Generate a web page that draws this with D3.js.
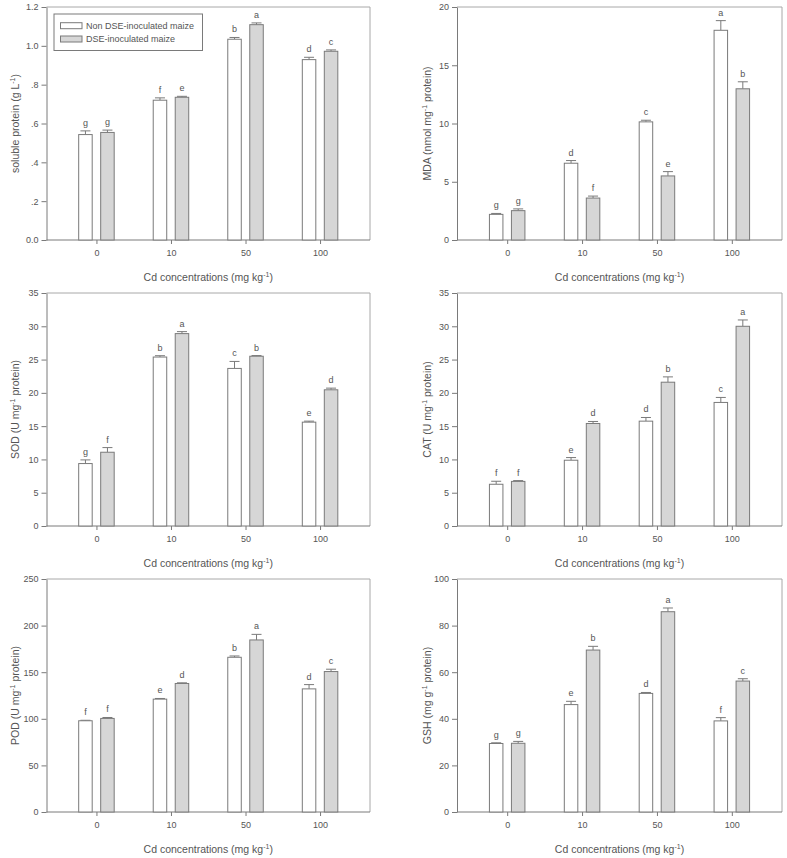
<!DOCTYPE html>
<html>
<head>
<meta charset="utf-8">
<script src="https://cdn.jsdelivr.net/npm/d3@7"></script>
<style>
  html, body { margin: 0; padding: 0; background: #fff; }
  svg { display: block; }
  text { font-family: Arial, "Liberation Sans", sans-serif; fill: #555; }
</style>
</head>
<body>
<svg id="chart" width="787" height="858"></svg>
<script>
// ---------- data ----------
const categories = ["0", "10", "50", "100"];
const seriesNames = ["Non DSE-inoculated maize", "DSE-inoculated maize"];
const xTitle = "Cd concentrations (mg kg";

// soluble protein
const solubleNon = [0.543, 0.720, 1.034, 0.929];
const solubleNonErr = [0.019, 0.012, 0.009, 0.012];
const solubleDSE = [0.554, 0.735, 1.109, 0.972];
const solubleDSEErr = [0.012, 0.005, 0.009, 0.007];
const solubleNonLetters = ["g", "f", "b", "d"];
const solubleDSELetters = ["g", "e", "a", "c"];
const solubleTicks = [0, 0.2, 0.4, 0.6, 0.8, 1.0, 1.2];
const solubleTickLabels = ["0.0", ".2", ".4", ".6", ".8", "1.0", "1.2"];

// MDA
const mdaNon = [2.2, 6.59, 10.14, 18.0];
const mdaNonErr = [0.08, 0.23, 0.14, 0.83];
const mdaDSE = [2.52, 3.6, 5.5, 12.98];
const mdaDSEErr = [0.15, 0.17, 0.37, 0.6];
const mdaNonLetters = ["g", "d", "c", "a"];
const mdaDSELetters = ["g", "f", "e", "b"];
const mdaTicks = [0, 5, 10, 15, 20];
const mdaTickLabels = ["0", "5", "10", "15", "20"];

// SOD
const sodNon = [9.38, 25.38, 23.67, 15.6];
const sodNonErr = [0.55, 0.2, 1.05, 0.15];
const sodDSE = [11.08, 28.9, 25.5, 20.46];
const sodDSEErr = [0.7, 0.3, 0.1, 0.25];
const sodNonLetters = ["g", "b", "c", "e"];
const sodDSELetters = ["f", "a", "b", "d"];
const sodTicks = [0, 5, 10, 15, 20, 25, 30, 35];
const sodTickLabels = ["0", "5", "10", "15", "20", "25", "30", "35"];

// CAT
const catNon = [6.27, 9.88, 15.75, 18.56];
const catNonErr = [0.45, 0.4, 0.55, 0.75];
const catDSE = [6.7, 15.4, 21.6, 30.0];
const catDSEErr = [0.12, 0.3, 0.8, 0.95];
const catNonLetters = ["f", "e", "d", "c"];
const catDSELetters = ["f", "d", "b", "a"];
const catTicks = [0, 5, 10, 15, 20, 25, 30, 35];
const catTickLabels = ["0", "5", "10", "15", "20", "25", "30", "35"];

// POD
const podNon = [97.9, 121.1, 166.0, 132.1];
const podNonErr = [0.5, 0.7, 1.4, 4.6];
const podDSE = [100.4, 137.9, 184.6, 150.7];
const podDSEErr = [1.0, 0.7, 6.0, 2.5];
const podNonLetters = ["f", "e", "b", "d"];
const podDSELetters = ["f", "d", "a", "c"];
const podTicks = [0, 50, 100, 150, 200, 250];
const podTickLabels = ["0", "50", "100", "150", "200", "250"];

// GSH
const gshNon = [29.4, 46.1, 50.9, 39.1];
const gshNonErr = [0.3, 1.4, 0.4, 1.4];
const gshDSE = [29.5, 69.5, 85.96, 56.2];
const gshDSEErr = [0.8, 1.6, 1.6, 1.0];
const gshNonLetters = ["g", "e", "d", "f"];
const gshDSELetters = ["g", "b", "a", "c"];
const gshTicks = [0, 20, 40, 60, 80, 100];
const gshTickLabels = ["0", "20", "40", "60", "80", "100"];

// ---------- layout ----------
const panels = [
  { label: ["soluble protein (g L", ")"], max: 1.2, ticks: solubleTicks, tickLabels: solubleTickLabels,
    non: solubleNon, nonErr: solubleNonErr, dse: solubleDSE, dseErr: solubleDSEErr,
    nonL: solubleNonLetters, dseL: solubleDSELetters, col: 0, row: 0, legend: true },
  { label: ["MDA (nmol mg", " protein)"], max: 20, ticks: mdaTicks, tickLabels: mdaTickLabels,
    non: mdaNon, nonErr: mdaNonErr, dse: mdaDSE, dseErr: mdaDSEErr,
    nonL: mdaNonLetters, dseL: mdaDSELetters, col: 1, row: 0 },
  { label: ["SOD (U mg", " protein)"], max: 35, ticks: sodTicks, tickLabels: sodTickLabels,
    non: sodNon, nonErr: sodNonErr, dse: sodDSE, dseErr: sodDSEErr,
    nonL: sodNonLetters, dseL: sodDSELetters, col: 0, row: 1 },
  { label: ["CAT (U mg", " protein)"], max: 35, ticks: catTicks, tickLabels: catTickLabels,
    non: catNon, nonErr: catNonErr, dse: catDSE, dseErr: catDSEErr,
    nonL: catNonLetters, dseL: catDSELetters, col: 1, row: 1 },
  { label: ["POD (U mg", " protein)"], max: 250, ticks: podTicks, tickLabels: podTickLabels,
    non: podNon, nonErr: podNonErr, dse: podDSE, dseErr: podDSEErr,
    nonL: podNonLetters, dseL: podDSELetters, col: 0, row: 2 },
  { label: ["GSH (mg g", " protein)"], max: 100, ticks: gshTicks, tickLabels: gshTickLabels,
    non: gshNon, nonErr: gshNonErr, dse: gshDSE, dseErr: gshDSEErr,
    nonL: gshNonLetters, dseL: gshDSELetters, col: 1, row: 2 }
];

const colX = [{ x0: 46.5, x1: 370, labelX: 15 }, { x0: 457, x1: 782, labelX: 427 }];
const rowY = [7, 293, 579];
const plotH = 233;
const barW = 13.5;
const barOff = 11;
const capW = 10;

const AXIS = "#7a7a7a";
const FRAME = "#a8a8a8";
const BAR_STROKE = "#7a7a7a";
const GRAY_FILL = "#d6d6d6";

const svg = d3.select("#chart");

panels.forEach(p => {
  const c = colX[p.col];
  const top = rowY[p.row];
  const bottom = top + plotH;
  const g = svg.append("g");

  const x = d3.scalePoint().domain(categories).range([c.x0, c.x1]).padding(0.67);
  const y = d3.scaleLinear().domain([0, p.max]).range([bottom, top]);

  // frame (top & right)
  g.append("path")
    .attr("d", `M${c.x0},${top}H${c.x1}V${bottom}`)
    .attr("fill", "none").attr("stroke", FRAME).attr("stroke-width", 1);

  // y axis
  const yAxis = d3.axisLeft(y).tickValues(p.ticks)
    .tickFormat((d, i) => p.tickLabels[i]).tickSize(5).tickSizeOuter(0).tickPadding(3);
  const ya = g.append("g").attr("transform", `translate(${c.x0},0)`).call(yAxis);
  ya.selectAll("path, line").attr("stroke", AXIS);
  ya.selectAll("text").style("font-size", "9px").attr("fill", "#555")
    .style("font-family", "Arial, 'Liberation Sans', sans-serif");

  // x axis
  const xAxis = d3.axisBottom(x).tickSize(4).tickSizeOuter(0).tickPadding(6);
  const xa = g.append("g").attr("transform", `translate(0,${bottom})`).call(xAxis);
  xa.select("path").attr("d", `M${c.x0},0H${c.x1}`);
  xa.selectAll("path, line").attr("stroke", AXIS);
  xa.selectAll("text").style("font-size", "9px").attr("fill", "#555")
    .style("font-family", "Arial, 'Liberation Sans', sans-serif");

  // bars
  const groups = [
    { vals: p.non, errs: p.nonErr, lets: p.nonL, off: -barOff, fill: "#ffffff" },
    { vals: p.dse, errs: p.dseErr, lets: p.dseL, off: barOff, fill: GRAY_FILL }
  ];
  groups.forEach(s => {
    const data = categories.map((cat, i) => ({ cat, v: s.vals[i], e: s.errs[i], l: s.lets[i] }));
    const cx = d => x(d.cat) + s.off;
    // error bars
    g.selectAll(null).data(data).enter().append("path")
      .attr("d", d => `M${cx(d)},${y(d.v)}V${y(d.v + d.e)}M${cx(d) - capW / 2},${y(d.v + d.e)}H${cx(d) + capW / 2}`)
      .attr("stroke", BAR_STROKE).attr("stroke-width", 1).attr("fill", "none");
    g.selectAll(null).data(data).enter().append("rect")
      .attr("x", d => cx(d) - barW / 2)
      .attr("y", d => y(d.v))
      .attr("width", barW)
      .attr("height", d => bottom - y(d.v))
      .attr("fill", s.fill).attr("stroke", BAR_STROKE).attr("stroke-width", 1);
    g.selectAll(null).data(data).enter().append("text")
      .attr("x", d => cx(d))
      .attr("y", d => y(d.v + d.e) - 5)
      .attr("text-anchor", "middle")
      .style("font-size", "9px")
      .text(d => d.l);
  });

  // x title
  const xt = g.append("text")
    .attr("x", (c.x0 + c.x1) / 2).attr("y", bottom + 41)
    .attr("text-anchor", "middle").style("font-size", "10.5px");
  xt.append("tspan").text(xTitle);
  xt.append("tspan").attr("dy", "-4").style("font-size", "7px").text("-1");
  xt.append("tspan").attr("dy", "4").text(")");

  // y title
  const yt = g.append("text")
    .attr("transform", `translate(${c.labelX},${(top + bottom) / 2}) rotate(-90)`)
    .attr("dy", "0.35em")
    .attr("text-anchor", "middle").style("font-size", "10.5px");
  yt.append("tspan").text(p.label[0]);
  yt.append("tspan").attr("dy", "-4").style("font-size", "7px").text("-1");
  yt.append("tspan").attr("dy", "4").text(p.label[1]);

  // legend
  if (p.legend) {
    const lg = g.append("g");
    lg.append("rect").attr("x", 54).attr("y", 14).attr("width", 148.5).attr("height", 36.5)
      .attr("fill", "#fff").attr("stroke", AXIS).attr("stroke-width", 1);
    const items = [{ name: seriesNames[0], fill: "#ffffff", yy: 25.7 }, { name: seriesNames[1], fill: GRAY_FILL, yy: 39 }];
    items.forEach(it => {
      lg.append("rect").attr("x", 60.5).attr("y", it.yy - 3).attr("width", 21.5).attr("height", 6)
        .attr("fill", it.fill).attr("stroke", BAR_STROKE).attr("stroke-width", 1);
      lg.append("text").attr("x", 86).attr("y", it.yy).attr("dy", "0.35em")
        .style("font-size", "9px").text(it.name);
    });
  }
});
</script>
</body>
</html>
